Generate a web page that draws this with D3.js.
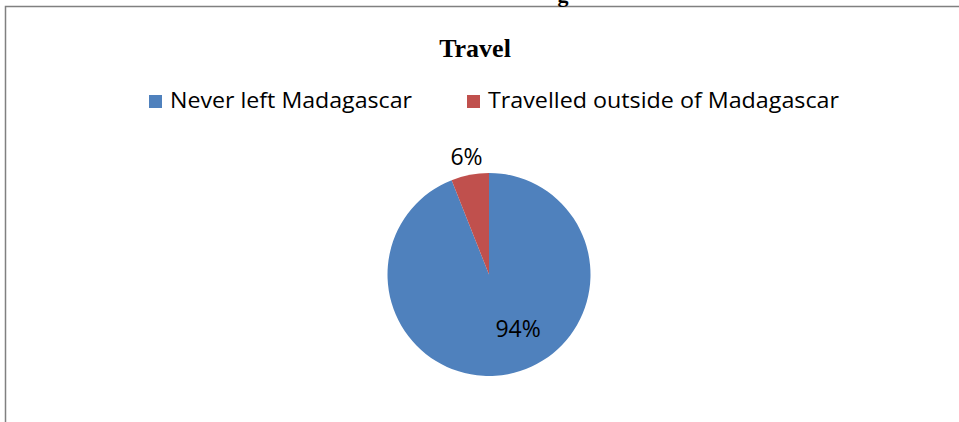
<!DOCTYPE html>
<html><head><meta charset="utf-8">
<script src="https://cdn.jsdelivr.net/npm/d3@7"></script>
<style>html,body{margin:0;padding:0;background:#fff;}svg{display:block;}</style>
</head><body>
<svg id="chart" width="959" height="422"></svg>
<script>
const title = "Travel";
const categories = ["Never left Madagascar", "Travelled outside of Madagascar"];
const values = [94, 6];
const labels = ["94%", "6%"];
const colors = ["#4F81BD", "#C0504D"];

const svg = d3.select("#chart");
// chart frame
svg.append("rect").attr("x", 5.5).attr("y", 6.5).attr("width", 1000).attr("height", 500)
  .attr("fill", "none").attr("stroke", "#808080").attr("stroke-width", 1.5);
// clipped heading fragment above the frame
svg.append("text").attr("x", 563).attr("y", 2).attr("text-anchor", "middle")
  .attr("font-family", "Liberation Serif").attr("font-weight", "bold").attr("font-size", 22)
  .text("g");

svg.append("text").attr("x", 475).attr("y", 57).attr("text-anchor", "middle")
  .attr("font-family", "Liberation Serif").attr("font-weight", "bold").attr("font-size", 26)
  .attr("fill", "#000").text(title);

// legend
const legendX = [149, 467];
const legendTextLen = [242, 351];
const lg = svg.append("g");
categories.forEach((c, i) => {
  lg.append("rect").attr("x", legendX[i]).attr("y", 95).attr("width", 13).attr("height", 13).attr("fill", colors[i]);
  lg.append("text").attr("x", legendX[i] + 21).attr("y", 108)
    .attr("font-family", "Open Sans").attr("font-size", 22.5).attr("fill", "#000")
    .attr("textLength", legendTextLen[i]).attr("lengthAdjust", "spacingAndGlyphs").text(c);
});

// pie
const cx = 489, cy = 274.5, r = 101.5;
const pie = d3.pie().sort(null).value(d => d)(values);
const arc = d3.arc().innerRadius(0).outerRadius(r);
const g = svg.append("g").attr("transform", `translate(${cx},${cy})`);
g.selectAll("path").data(pie).join("path")
  .attr("d", arc).attr("fill", (d, i) => colors[i]);

// data labels (best-fit style positions)
const labelPos = [
  {angle: 152 * Math.PI / 180, radius: 62},
  {angle: null, radius: 120}
];
pie.forEach((d, i) => {
  const a = labelPos[i].angle !== null ? labelPos[i].angle : (d.startAngle + d.endAngle) / 2;
  const rr = labelPos[i].radius;
  const x = Math.sin(a) * rr, y = -Math.cos(a) * rr;
  g.append("text").attr("x", x).attr("y", y).attr("dy", "0.35em").attr("text-anchor", "middle")
    .attr("font-family", "Open Sans").attr("font-size", 23).attr("fill", "#000").text(labels[i]);
});
</script>
</body></html>
